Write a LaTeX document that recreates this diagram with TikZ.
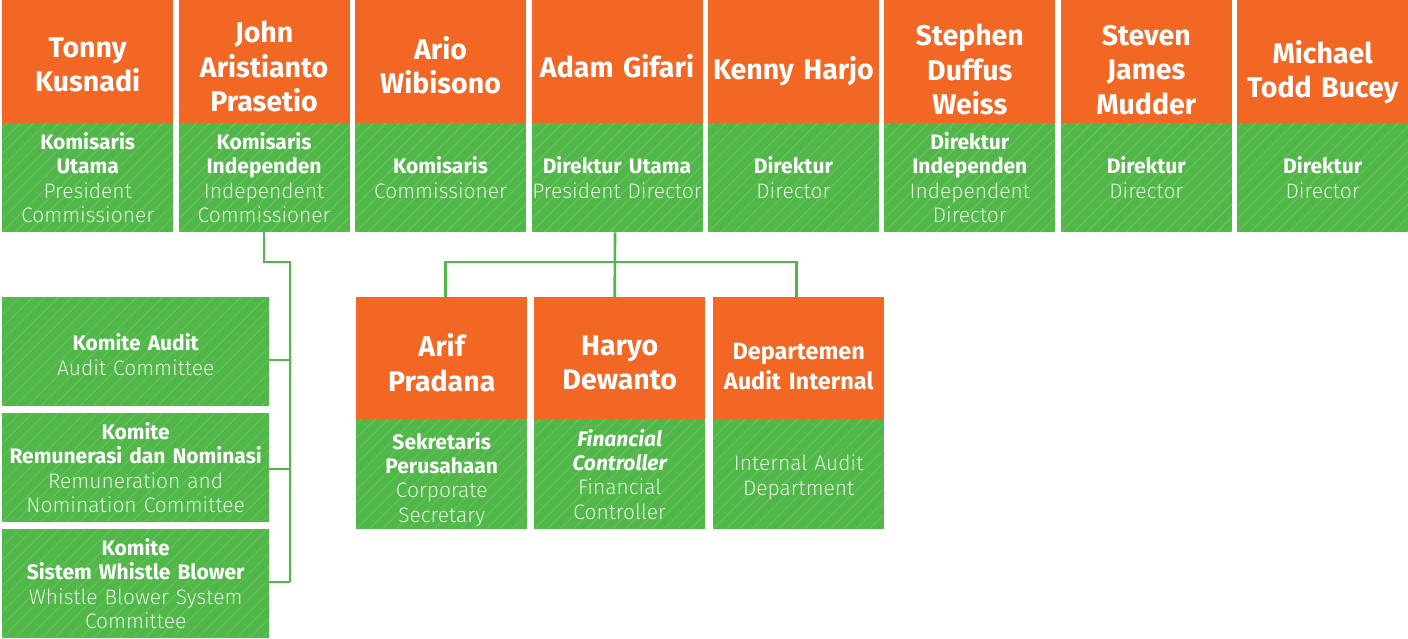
\documentclass[tikz,border=0pt]{standalone}
\usepackage{fontspec}
\setmainfont{Fira Sans}
\newfontfamily\lightfam{Fira Sans Light}
\definecolor{orgcol}{HTML}{F26724}
\definecolor{grncol}{HTML}{50B748}
\definecolor{hatchcol}{HTML}{6CC465}
\definecolor{engcol}{HTML}{E4F3E1}
\newcommand\eng{\mdseries\upshape\lightfam\color{engcol}}
\tikzset{
  hatchline/.style={draw=hatchcol, line width=0.8pt},
  namebox/.style={rectangle, fill=orgcol, anchor=north west,
    minimum width=171pt, minimum height=123pt, inner sep=0pt},
  nametext/.style={text=white, inner sep=0pt, text width=170pt,
    align=center, font=\fontsize{28.5}{34.5}\selectfont\bfseries},
  rolebox/.style={rectangle, fill=grncol, text=white, anchor=north west,
    minimum width=171pt, minimum height=109pt, inner sep=0pt, text width=170pt,
    align=center, font=\fontsize{21}{24.3}\selectfont\bfseries,
    path picture={\foreach \k in {-10,...,22}
      \draw[hatchline] ([xshift=\k*13pt]path picture bounding box.south west) -- ++(160,-160);}},
  combox/.style={rolebox, minimum width=267pt, text width=266pt, minimum height=108.5pt},
  roletext/.style={text=white, inner sep=0pt, text width=170pt,
    align=center, font=\fontsize{21}{24.3}\selectfont\bfseries},
  conn/.style={draw=grncol, line width=2.6pt},
}
\begin{document}
\begin{tikzpicture}[x=1pt,y=-1pt]
\useasboundingbox (0,0) rectangle (1408,638);
% top row boxes
\node[namebox] (n1) at (2,0) {};
\node[namebox] (n2) at (178.4,0) {};
\node[namebox] (n3) at (354.9,0) {};
\node[namebox] (n4) at (531.3,0) {};
\node[namebox] (n5) at (707.7,0) {};
\node[namebox] (n6) at (884.1,0) {};
\node[namebox] (n7) at (1060.6,0) {};
\node[namebox] (n8) at (1237,0) {};
% names
\node[nametext, yshift=-3pt] (t1) at (n1.center) {Tonny\\Kusnadi};
\node[nametext, yshift=-5pt] (t2) at (n2.center) {John\\Aristianto\\Prasetio};
\node[nametext, yshift=-3.5pt] (t3) at (n3.center) {Ario\\Wibisono};
\node[nametext, yshift=-4pt] (t4) at (n4.center) {Adam Gifari};
\node[nametext, yshift=-9pt] (t5) at (n5.center) {Kenny Harjo};
\node[nametext, yshift=-8pt] (t6) at (n6.center) {Stephen\\Duffus\\Weiss};
\node[nametext, yshift=-8pt] (t7) at (n7.center) {Steven\\James\\Mudder};
\node[nametext, yshift=-10.5pt] (t8) at (n8.center) {Michael\\Todd Bucey};
% roles
\node[rolebox] (r1) at (2,123) {Komisaris\\Utama\\\eng President\\Commissioner};
\node[rolebox] (r2) at (178.4,123) {Komisaris\\Independen\\\eng Independent\\Commissioner};
\node[rolebox] (r3) at (354.9,123) {Komisaris\\\eng Commissioner};
\node[rolebox] (r4) at (531.3,123) {Direktur Utama\\\eng President Director};
\node[rolebox] (r5) at (707.7,123) {Direktur\\\eng Director};
\node[rolebox] (r6) at (884.1,123) {Direktur\\Independen\\\eng Independent\\Director};
\node[rolebox] (r7) at (1060.6,123) {Direktur\\\eng Director};
\node[rolebox] (r8) at (1237,123) {Direktur\\\eng Director};
% middle row
\node[namebox, minimum height=122pt] (m1) at (356,297) {};
\node[namebox, minimum height=122pt] (m2) at (534,297) {};
\node[namebox, minimum height=122pt] (m3) at (713,297) {};
\node[nametext, yshift=-4.5pt] (u1) at (m1.center) {Arif\\Pradana};
\node[nametext, yshift=-4.5pt] (u2) at (m2.center) {Haryo\\Dewanto};
\node[nametext, yshift=-8pt, font=\fontsize{23.5}{30}\selectfont\bfseries] (u3) at (m3.center) {Departemen\\Audit Internal};
\node[rolebox, minimum height=110pt] (s1) at (356,419) {};
\node[rolebox, minimum height=110pt] (s2) at (534,419) {};
\node[rolebox, minimum height=110pt] (s3) at (713,419) {};
\node[roletext, yshift=-5pt] (v1) at (s1.center) {Sekretaris\\Perusahaan\\\eng Corporate\\Secretary};
\node[roletext] (v2) at (s2.center) {\itshape Financial\\\itshape Controller\\\eng Financial\\Controller};
\node[roletext, yshift=-3pt] (v3) at (s3.center) {\eng Internal Audit\\Department};
% committees
\node[combox] (c1) at (2,297) {};
\node[roletext, text width=266pt, yshift=-3pt] (k1) at (c1.center) {Komite Audit\\\eng Audit Committee};
\node[combox] (c2) at (2,413) {Komite\\Remunerasi dan Nominasi\\\eng Remuneration and\\Nomination Committee};
\node[combox, minimum height=109pt] (c3) at (2,529) {Komite\\Sistem Whistle Blower\\\eng Whistle Blower System\\Committee};
% commissioner connectors
\coordinate (ja) at (290,262);
\coordinate (b1) at (290,360);
\coordinate (b2) at (290,469);
\coordinate (b3) at (290,582);
\draw[conn] (r2.south) |- (ja) -- (b3);
\draw[conn] (c1.east |- b1) -- (b1);
\draw[conn] (c2.east |- b2) -- (b2);
\draw[conn] (c3.east |- b3) -- (b3);
% director connectors
\coordinate (da) at (445.7,262);
\coordinate (db) at (796.7,262);
\draw[conn] ([xshift=-2pt]r4.south) -- ([xshift=-5pt]m2.north);
\draw[conn] ([xshift=4pt]m1.north) |- (da) -- (db) -- ([xshift=-2pt]m3.north);
\end{tikzpicture}
\end{document}
